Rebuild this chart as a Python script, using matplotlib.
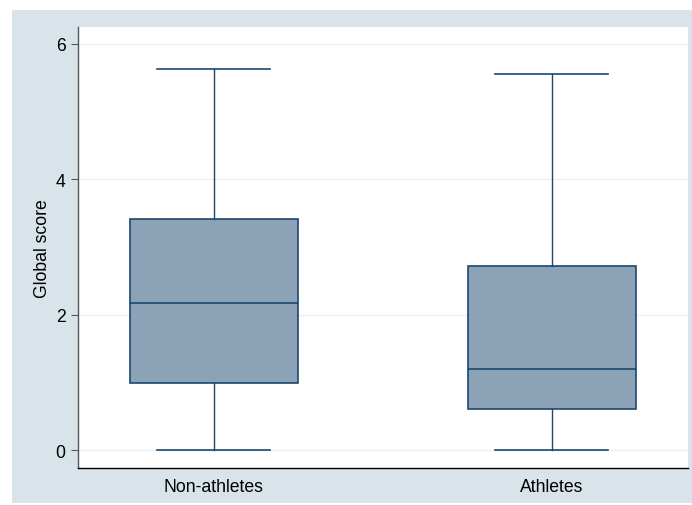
import matplotlib.pyplot as plt
from matplotlib.patches import Rectangle

plt.rcParams['font.family'] = ['Liberation Sans', 'DejaVu Sans']

groups = ["Non-athletes", "Athletes"]
whislo = [0.0, 0.0]
q1 = [1.00, 0.61]
med = [2.18, 1.20]
q3 = [3.42, 2.72]
whishi = [5.63, 5.55]
yticks = [0, 2, 4, 6]

navy = "#1a476f"
fill = "#8ca3b7"
bg = "#d9e4ea"
grid = "#eaf0f3"

fig = plt.figure(figsize=(6.92, 5.06), dpi=100)
fig.patch.set_facecolor("white")
# graph region background
fig.patches.append(Rectangle((12 / 692, 1 - 504 / 506), 680 / 692, 493 / 506,
                             transform=fig.transFigure, facecolor=bg,
                             edgecolor="none", zorder=-10))

ax = fig.add_axes([78 / 692, 1 - 469 / 506, 610 / 692, 441 / 506])
ax.set_zorder(1)
ax.set_facecolor("white")

stats = []
for i, g in enumerate(groups):
    stats.append({"label": g, "whislo": whislo[i], "q1": q1[i], "med": med[i],
                  "q3": q3[i], "whishi": whishi[i], "fliers": []})

ax.bxp(stats, positions=[1, 2], widths=0.497, patch_artist=True,
       showfliers=False, capwidths=0.334,
       boxprops=dict(facecolor=fill, edgecolor=navy, linewidth=1.2),
       medianprops=dict(color=navy, linewidth=1.2),
       whiskerprops=dict(color=navy, linewidth=1.0),
       capprops=dict(color=navy, linewidth=1.2))

ax.set_xlim(0.5985, 2.403)
ax.set_ylim(-0.261, 6.25)
ax.set_yticks(yticks)
ax.set_yticklabels([str(t) for t in yticks])
ax.yaxis.grid(True, color=grid, linewidth=1.0)
ax.set_axisbelow(True)

for s in ["top", "right"]:
    ax.spines[s].set_visible(False)
ax.spines["left"].set_color("#555555")
ax.spines["left"].set_linewidth(1.0)
ax.spines["bottom"].set_color("black")
ax.spines["bottom"].set_linewidth(1.0)

ax.tick_params(axis="y", direction="out", length=5, width=0.8, color="#555555",
               labelsize=12.7, pad=4)
ax.tick_params(axis="x", length=0, labelsize=12.7, pad=7)
ax.set_ylabel("Global score", fontsize=12.7, labelpad=3)

fig.savefig("out.png", dpi=100)
